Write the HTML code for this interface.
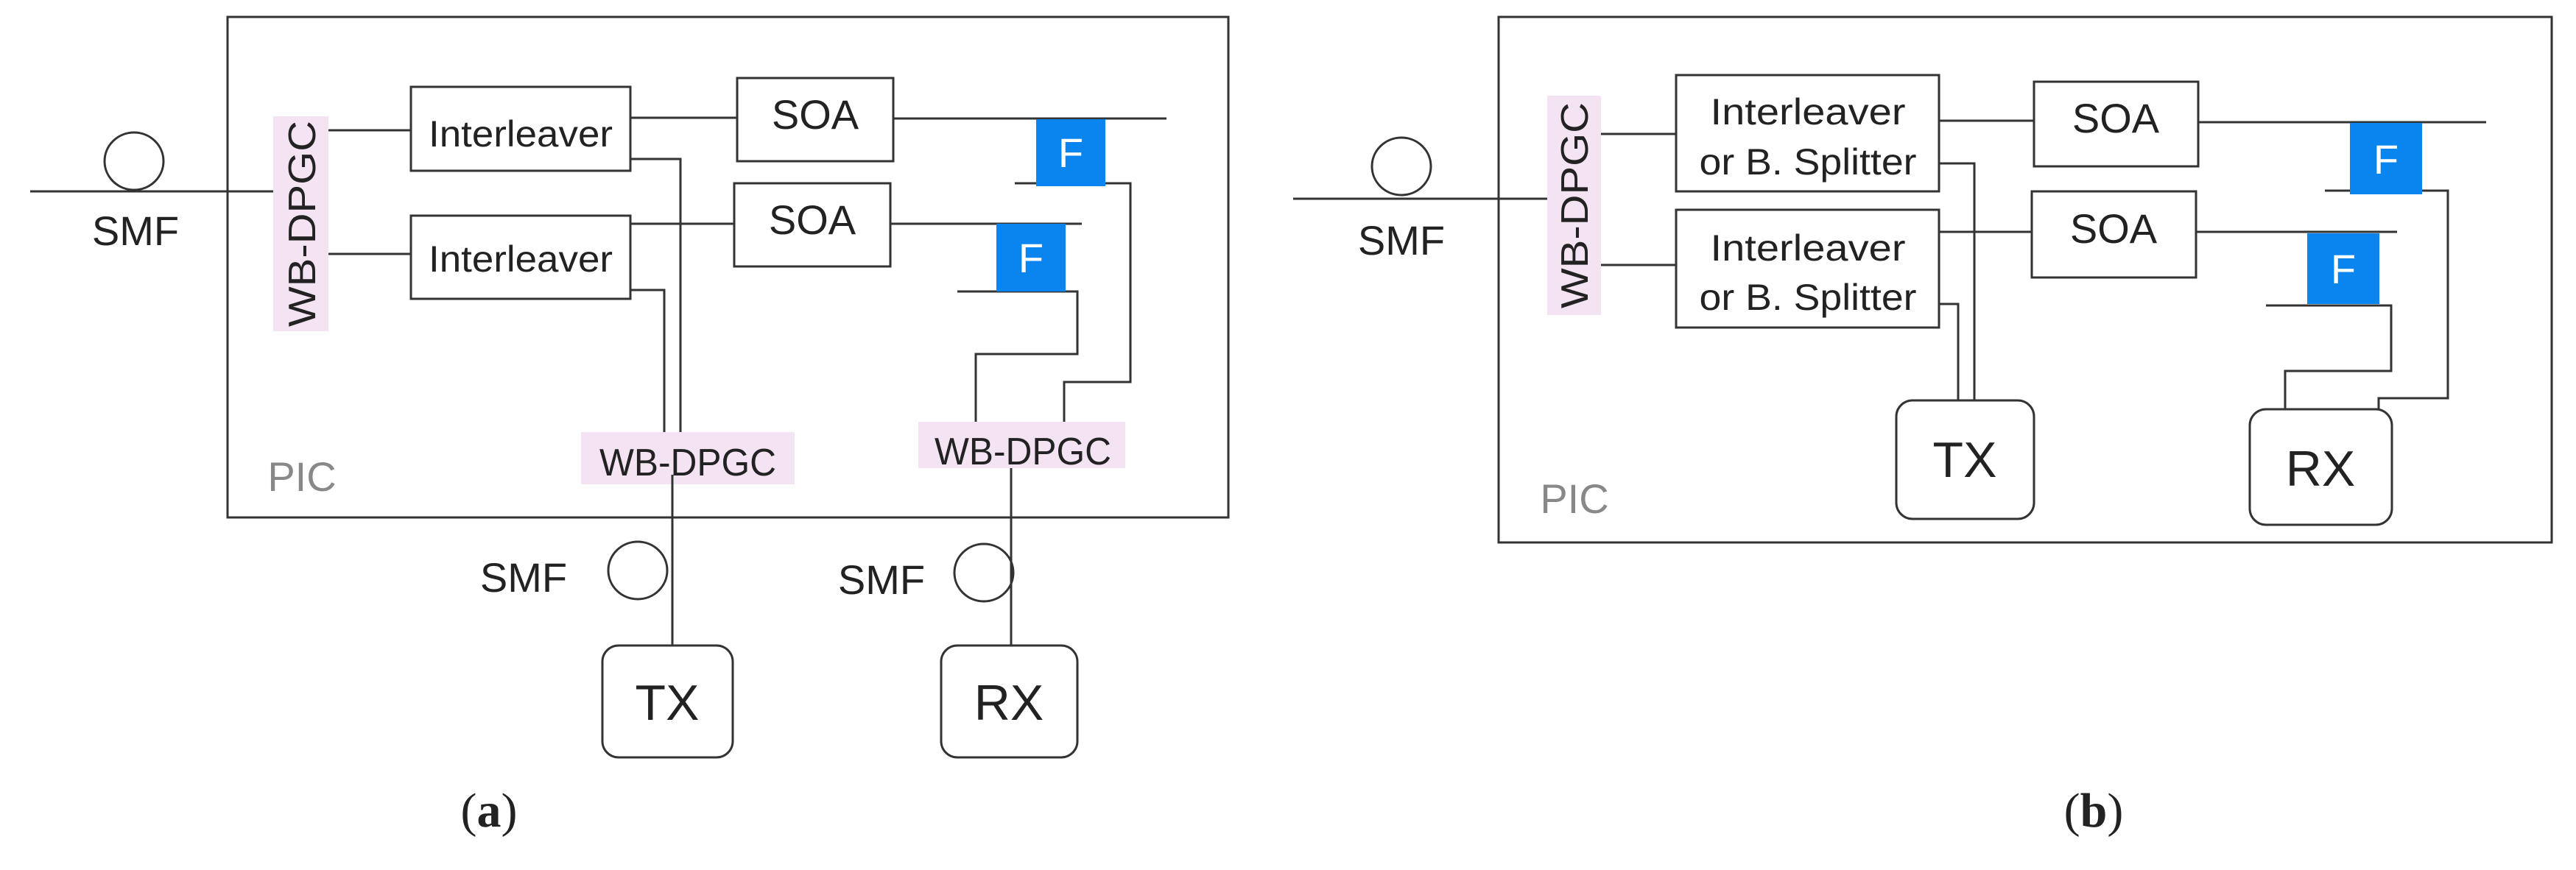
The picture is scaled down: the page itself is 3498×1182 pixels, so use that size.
<!DOCTYPE html>
<html><head><meta charset="utf-8"><style>
html,body{margin:0;padding:0;background:#fff;}
svg{display:block;}
text{font-family:"Liberation Sans",sans-serif;fill:#222;}
</style></head><body>
<svg width="3498" height="1182" viewBox="0 0 3498 1182" xmlns="http://www.w3.org/2000/svg">
<g fill="none" stroke="#333" stroke-width="3">
<!-- (a) -->
<rect x="309" y="23" width="1359" height="680"/>
<line x1="41" y1="260" x2="371" y2="260"/>
<ellipse cx="182" cy="219" rx="40" ry="39"/>
<line x1="446" y1="177" x2="558" y2="177"/>
<line x1="446" y1="345" x2="558" y2="345"/>
<rect x="558" y="118" width="298" height="114"/>
<rect x="558" y="293" width="298" height="113"/>
<rect x="1001" y="106" width="212" height="113"/>
<rect x="997" y="249" width="212" height="113"/>
<line x1="856" y1="160" x2="1001" y2="160"/>
<line x1="856" y1="304" x2="997" y2="304"/>
<line x1="1213" y1="161" x2="1584" y2="161"/>
<line x1="1209" y1="304" x2="1469" y2="304"/>
<polyline points="1378,249 1535,249 1535,519 1445,519 1445,573"/>
<polyline points="1300,396 1463,396 1463,481 1325,481 1325,573"/>
<polyline points="856,216 924,216 924,587"/>
<polyline points="856,394 902,394 902,587"/>
<line x1="913" y1="658" x2="913" y2="877"/>
<line x1="1373" y1="636" x2="1373" y2="877"/>
<ellipse cx="866" cy="775" rx="40" ry="39"/>
<ellipse cx="1336" cy="778" rx="40" ry="39"/>
<rect x="818" y="877" width="177" height="152" rx="22"/>
<rect x="1278" y="877" width="185" height="152" rx="22"/>
<!-- (b) -->
<rect x="2035" y="23" width="1430" height="714"/>
<line x1="1756" y1="270" x2="2101" y2="270"/>
<ellipse cx="1903" cy="226" rx="40" ry="39"/>
<line x1="2174" y1="182" x2="2276" y2="182"/>
<line x1="2174" y1="360" x2="2276" y2="360"/>
<rect x="2276" y="102" width="357" height="158"/>
<rect x="2276" y="285" width="357" height="160"/>
<rect x="2762" y="111" width="223" height="115"/>
<rect x="2759" y="260" width="223" height="117"/>
<line x1="2633" y1="164" x2="2762" y2="164"/>
<line x1="2633" y1="315" x2="2759" y2="315"/>
<line x1="2985" y1="166" x2="3376" y2="166"/>
<line x1="2982" y1="315" x2="3255" y2="315"/>
<polyline points="3157,259 3324,259 3324,541 3230,541 3230,556"/>
<polyline points="3077,415 3247,415 3247,504 3103,504 3103,556"/>
<polyline points="2633,222 2681,222 2681,544"/>
<polyline points="2633,413 2659,413 2659,544"/>
<rect x="2575" y="544" width="187" height="161" rx="22"/>
<rect x="3055" y="556" width="193" height="157" rx="22"/>
</g>
<!-- pink & blue -->
<rect x="371" y="158" width="75" height="292" fill="#f3e3f3"/>
<rect x="789" y="587" width="290" height="71" fill="#f3e3f3"/>
<rect x="1247" y="573" width="281" height="63" fill="#f3e3f3"/>
<rect x="1407" y="162" width="94" height="91" fill="#0a84ee"/>
<rect x="1353" y="304" width="94" height="92" fill="#0a84ee"/>
<rect x="2101" y="130" width="73" height="298" fill="#f3e3f3"/>
<rect x="3191" y="167" width="98" height="97" fill="#0a84ee"/>
<rect x="3133" y="317" width="98" height="96" fill="#0a84ee"/>
<line x1="913" y1="645" x2="913" y2="658" stroke="#333" stroke-width="3"/>
<!-- texts (a) -->
<g font-size="56" text-anchor="middle">
<text x="184" y="333">SMF</text>
<text x="711" y="804">SMF</text>
<text x="1197" y="807">SMF</text>
<text x="707" y="199" font-size="50" textLength="250" lengthAdjust="spacingAndGlyphs">Interleaver</text>
<text x="707" y="369" font-size="50" textLength="250" lengthAdjust="spacingAndGlyphs">Interleaver</text>
<text x="1107" y="175">SOA</text>
<text x="1103" y="318">SOA</text>
<text x="934" y="646" font-size="52" textLength="240" lengthAdjust="spacingAndGlyphs">WB-DPGC</text>
<text x="1389" y="631" font-size="52" textLength="240" lengthAdjust="spacingAndGlyphs">WB-DPGC</text>
<text transform="translate(428,304) rotate(-90)" font-size="52" textLength="280" lengthAdjust="spacingAndGlyphs">WB-DPGC</text>
<text x="1454" y="227" fill="#fff" style="fill:#fff">F</text>
<text x="1400" y="370" style="fill:#fff">F</text>
<text x="906" y="978" font-size="68">TX</text>
<text x="1370" y="978" font-size="68">RX</text>
<text x="410" y="667" style="fill:#888">PIC</text>
<text x="664" y="1123" font-family="Liberation Serif" style="font-family:'Liberation Serif',serif" font-size="66">(<tspan font-weight="bold">a</tspan>)</text>
</g>
<!-- texts (b) -->
<g font-size="56" text-anchor="middle">
<text x="1903" y="346">SMF</text>
<text x="2455" y="169" font-size="50" textLength="265" lengthAdjust="spacingAndGlyphs">Interleaver</text>
<text x="2455" y="237" font-size="50" textLength="295" lengthAdjust="spacingAndGlyphs">or B. Splitter</text>
<text x="2455" y="354" font-size="50" textLength="265" lengthAdjust="spacingAndGlyphs">Interleaver</text>
<text x="2455" y="421" font-size="50" textLength="295" lengthAdjust="spacingAndGlyphs">or B. Splitter</text>
<text x="2873" y="180">SOA</text>
<text x="2870" y="330">SOA</text>
<text transform="translate(2156,279) rotate(-90)" font-size="52" textLength="280" lengthAdjust="spacingAndGlyphs">WB-DPGC</text>
<text x="3240" y="236" style="fill:#fff">F</text>
<text x="3182" y="385" style="fill:#fff">F</text>
<text x="2668" y="648" font-size="68">TX</text>
<text x="3151" y="660" font-size="68">RX</text>
<text x="2138" y="697" style="fill:#888">PIC</text>
<text x="2843" y="1123" style="font-family:'Liberation Serif',serif" font-size="66">(<tspan font-weight="bold">b</tspan>)</text>
</g>
</svg>
</body></html>
